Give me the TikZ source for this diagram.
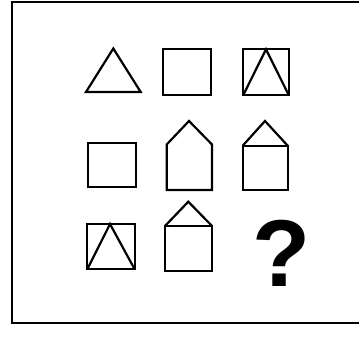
\documentclass[tikz,border=0pt]{standalone}
\usepackage{fontspec}
\setmainfont{Liberation Sans}
\begin{document}
\begin{tikzpicture}[x=1pt,y=-1pt,
  fig/.style={draw=black,line width=2.2pt,line join=miter},
  frame/.style={draw=black,line width=1.4pt}]
\useasboundingbox (0,0) rectangle (359,339);
% frame
\draw[frame] (365,2) -- (12,2) -- (12,323) -- (365,323);
% row 1
\draw[fig] (113.3,48.5) -- (86,92) -- (140.7,92) -- cycle;
\draw[fig] (162.7,49.3) rectangle (210.7,95);
\draw[fig] (243.3,49.3) rectangle (288.7,95);
\draw[fig] (243.3,95) -- (266,49.3) -- (288.7,95);
% row 2
\draw[fig] (88.3,142.7) rectangle (136,187.3);
\draw[fig] (166.7,190) -- (166.7,144.5) -- (189,121) -- (212,144.5) -- (212,190) -- cycle;
\draw[fig] (242.7,145.7) rectangle (287.7,190);
\draw[fig] (242.7,145.7) -- (265,121) -- (287.7,145.7);
% row 3
\draw[fig] (87.3,224) rectangle (134.7,269.3);
\draw[fig] (87.3,269.3) -- (110,224) -- (134.7,269.3);
\draw[fig] (165,226) rectangle (212,270.7);
\draw[fig] (165,226) -- (188.3,201.7) -- (212,226);
\node[inner sep=0pt,font=\fontsize{95}{95}\selectfont\bfseries] (q) at (282,253) {?};
\end{tikzpicture}
\end{document}
